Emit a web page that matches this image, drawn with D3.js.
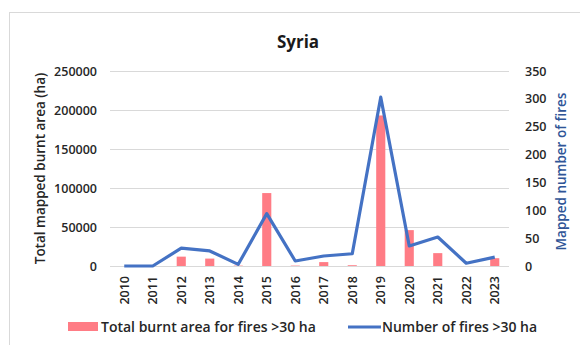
<!DOCTYPE html>
<html>
<head>
<meta charset="utf-8">
<script src="https://cdn.jsdelivr.net/npm/d3@7"></script>
<style>
  body { margin: 0; background: #fff; }
  text { font-family: "Open Sans", "Liberation Sans", sans-serif; }
</style>
</head>
<body>
<div id="chart"></div>
<script>
var years = ["2010","2011","2012","2013","2014","2015","2016","2017","2018","2019","2020","2021","2022","2023"];
var burntArea = [0, 0, 12000, 9500, 500, 93500, 500, 5000, 1000, 193000, 46000, 16500, 0, 10000];
var fireCount = [0, 0, 32, 27, 3, 94, 9, 18, 22, 303, 36, 52, 5, 16];
var leftTicks = [0, 50000, 100000, 150000, 200000, 250000];
var rightTicks = [0, 50, 100, 150, 200, 250, 300, 350];

var width = 580,
    height = 345,
    plotLeft = 110,
    plotRight = 509,
    plotTop = 71,
    plotBottom = 266,
    barColor = "#ff7c85",
    lineColor = "#4472c4";

var svg = d3.select("#chart")
            .append("svg")
              .attr("width", width)
              .attr("height", height);

// frame
svg.append("rect")
    .attr("x", 9.5).attr("y", 12.5)
    .attr("width", 575).attr("height", 340)
    .style("fill", "none")
    .style("stroke", "#d9d9d9");

var x = d3.scaleBand()
          .domain(years)
          .range([plotLeft, plotRight])
          .paddingInner(0.68)
          .paddingOuter(0.34),
    y = d3.scaleLinear()
          .domain([0, 250000])
          .range([plotBottom, plotTop]),
    y2 = d3.scaleLinear()
          .domain([0, 350])
          .range([plotBottom, plotTop]);

// gridlines
svg.append("g")
    .selectAll("line")
    .data(leftTicks)
    .enter().append("line")
      .attr("x1", plotLeft).attr("x2", plotRight)
      .attr("y1", function(d){ return Math.round(y(d)) + 0.5; })
      .attr("y2", function(d){ return Math.round(y(d)) + 0.5; })
      .style("stroke", "#d9d9d9");

// bars
svg.append("g")
    .selectAll("rect")
    .data(burntArea)
    .enter().append("rect")
      .attr("x", function(d, i){ return x(years[i]); })
      .attr("width", x.bandwidth())
      .attr("y", function(d){ return y(d); })
      .attr("height", function(d){ return plotBottom - y(d); })
      .style("fill", barColor);

// line
var valueline = d3.line()
    .x(function(d, i){ return x(years[i]) + x.bandwidth() / 2; })
    .y(function(d){ return y2(d); });

svg.append("path")
    .datum(fireCount)
    .attr("d", valueline)
    .style("fill", "none")
    .style("stroke", lineColor)
    .style("stroke-width", 3.2)
    .style("stroke-linejoin", "round");

// left axis
var yAxis = d3.axisLeft(y).tickValues(leftTicks).tickSize(0).tickPadding(13).tickFormat(d3.format("d"));
svg.append("g")
    .attr("transform", "translate(" + plotLeft + ",0)")
    .call(yAxis)
    .call(function(g){ g.select(".domain").remove(); })
    .selectAll("text")
      .style("font-size", "12.5px")
      .style("font-weight", "600")
      .style("fill", "#262626");

// right axis
var yAxis2 = d3.axisRight(y2).tickValues(rightTicks).tickSize(0).tickPadding(16);
svg.append("g")
    .attr("transform", "translate(" + plotRight + ",0)")
    .call(yAxis2)
    .call(function(g){ g.select(".domain").remove(); })
    .selectAll("text")
      .style("font-size", "12.5px")
      .style("font-weight", "600")
      .style("fill", "#262626");

// x axis
var xAxis = d3.axisBottom(x).tickSize(0).tickPadding(0);
var xg = svg.append("g")
    .attr("transform", "translate(0," + plotBottom + ")")
    .call(xAxis);
xg.select(".domain").remove();
xg.selectAll("text")
    .attr("transform", "rotate(-90)")
    .attr("x", -10)
    .attr("y", 0)
    .attr("dy", "0.35em")
    .style("text-anchor", "end")
    .style("font-size", "12.5px")
    .style("font-weight", "600")
    .style("fill", "#262626");

// title
svg.append("text")
    .attr("x", 298).attr("y", 48)
    .attr("text-anchor", "middle")
    .style("font-size", "17px")
    .style("font-weight", "700")
    .style("fill", "#1a1a1a")
    .text("Syria");

// axis titles
svg.append("text")
    .attr("transform", "translate(45," + ((plotTop + plotBottom) / 2) + ") rotate(-90)")
    .attr("text-anchor", "middle")
    .style("font-size", "13.5px")
    .style("font-weight", "600")
    .style("fill", "#262626")
    .text("Total mapped burnt area (ha)");

svg.append("text")
    .attr("transform", "translate(566," + ((plotTop + plotBottom) / 2 + 3) + ") rotate(-90)")
    .attr("text-anchor", "middle")
    .style("font-size", "13.5px")
    .style("font-weight", "600")
    .style("fill", "#2f5597")
    .text("Mapped number of fires");

// legend
var legend = svg.append("g");
legend.append("rect")
    .attr("x", 68).attr("y", 322)
    .attr("width", 30).attr("height", 9)
    .style("fill", barColor);
legend.append("text")
    .attr("x", 101).attr("y", 332)
    .style("font-size", "14px")
    .style("font-weight", "600")
    .style("fill", "#262626")
    .text("Total burnt area for fires >30 ha");
legend.append("line")
    .attr("x1", 348).attr("x2", 381)
    .attr("y1", 327).attr("y2", 327)
    .style("stroke", lineColor)
    .style("stroke-width", 3.2);
legend.append("text")
    .attr("x", 382).attr("y", 332)
    .style("font-size", "14px")
    .style("font-weight", "600")
    .style("fill", "#262626")
    .text("Number of fires >30 ha");
</script>
</body>
</html>
